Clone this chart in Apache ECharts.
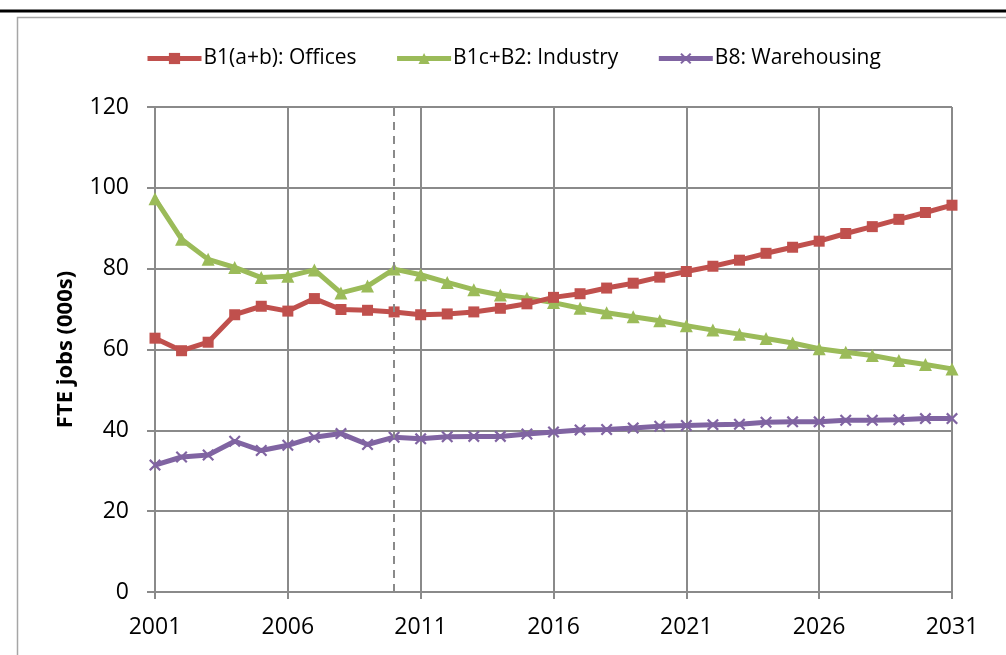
<!DOCTYPE html>
<html>
<head>
<meta charset="utf-8">
<script src="https://cdn.jsdelivr.net/npm/echarts@6/dist/echarts.min.js"></script>
<style>
html,body{margin:0;padding:0;background:#fff;}
#chart{width:1006px;height:655px;}
</style>
</head>
<body>
<div id="chart"></div>
<script>
var years = ['2001','2002','2003','2004','2005','2006','2007','2008','2009','2010',
             '2011','2012','2013','2014','2015','2016','2017','2018','2019','2020',
             '2021','2022','2023','2024','2025','2026','2027','2028','2029','2030','2031'];
var offices = [62.8, 59.7, 61.8, 68.6, 70.7, 69.5, 72.6, 69.9, 69.7, 69.3,
               68.6, 68.8, 69.3, 70.2, 71.3, 72.9, 73.8, 75.2, 76.4, 77.9,
               79.3, 80.6, 82.1, 83.8, 85.3, 86.8, 88.7, 90.4, 92.2, 93.9, 95.7];
var industry = [97.3, 87.3, 82.3, 80.3, 77.8, 78.1, 79.7, 74.0, 75.7, 79.9,
                78.5, 76.6, 74.8, 73.5, 72.7, 71.6, 70.2, 69.1, 68.1, 67.1,
                65.9, 64.8, 63.8, 62.7, 61.6, 60.2, 59.3, 58.5, 57.3, 56.3, 55.2];
var warehousing = [31.4, 33.4, 33.9, 37.3, 35.0, 36.3, 38.3, 39.2, 36.5, 38.3,
                   37.9, 38.4, 38.5, 38.5, 39.1, 39.6, 40.1, 40.2, 40.6, 41.0,
                   41.2, 41.4, 41.5, 42.0, 42.1, 42.1, 42.5, 42.5, 42.6, 42.9, 42.9];
var seriesNames = ['B1(a+b): Offices', 'B1c+B2: Industry', 'B8: Warehousing'];
var dividerYear = '2010';
var yTicks = {min: 0, max: 120, interval: 20};

var FONT = '"Open Sans", "DejaVu Sans", sans-serif';
var GRID = '#8a8a8a';
var xSym = 'path://M0,1.3 L1.3,0 L5,3.7 L8.7,0 L10,1.3 L6.3,5 L10,8.7 L8.7,10 L5,6.3 L1.3,10 L0,8.7 L3.7,5 Z';

var chart = echarts.init(document.getElementById('chart'), null, {renderer: 'canvas'});
chart.setOption({
  animation: false,
  backgroundColor: '#fff',
  graphic: [
    {type: 'rect', z: -10, shape: {x: 17.5, y: 17.5, width: 1100, height: 800},
     style: {fill: 'none', stroke: '#a6a6a6', lineWidth: 1.5}},
    {type: 'rect', z: -5, shape: {x: 0, y: 9.5, width: 1006, height: 3},
     style: {fill: '#000'}}
  ],
  legend: {
    left: 140, top: 43,
    itemWidth: 54, itemHeight: 14, itemGap: 38,
    lineStyle: {width: 5},
    textStyle: {fontFamily: FONT, fontSize: 21, color: '#000', padding: [0,0,0,-3]},
    data: seriesNames
  },
  grid: {left: 155, right: 54, top: 107, bottom: 63},
  xAxis: {
    type: 'category', data: years, boundaryGap: false,
    axisLine: {lineStyle: {color: GRID, width: 2}},
    axisTick: {interval: 4, length: 7, lineStyle: {color: GRID, width: 2}},
    axisLabel: {interval: 4, margin: 24, fontFamily: FONT, fontSize: 23, color: '#000'},
    splitLine: {show: true, interval: 4, lineStyle: {color: GRID, width: 2}}
  },
  yAxis: {
    type: 'value', min: yTicks.min, max: yTicks.max, interval: yTicks.interval,
    name: 'FTE jobs (000s)', nameLocation: 'middle', nameGap: 78,
    nameTextStyle: {fontFamily: FONT, fontSize: 22, fontWeight: 'bold', color: '#000'},
    axisLine: {show: true, lineStyle: {color: GRID, width: 2}},
    axisTick: {show: true, length: 8, lineStyle: {color: GRID, width: 2}},
    axisLabel: {margin: 26, fontFamily: FONT, fontSize: 23, color: '#000'},
    splitLine: {show: true, lineStyle: {color: GRID, width: 2}}
  },
  series: [
    {name: seriesNames[0], type: 'line', data: offices, color: '#C0504D',
     symbol: 'rect', symbolSize: 11, lineStyle: {width: 5},
     itemStyle: {color: '#C0504D'}, z: 3,
     markLine: {silent: true, symbol: 'none', label: {show: false},
       lineStyle: {color: '#8a8a8a', type: [8, 6], width: 2},
       data: [{xAxis: dividerYear}]}},
    {name: seriesNames[1], type: 'line', data: industry, color: '#9BBB59',
     symbol: 'triangle', symbolSize: 13, lineStyle: {width: 5},
     itemStyle: {color: '#9BBB59'}, z: 2},
    {name: seriesNames[2], type: 'line', data: warehousing, color: '#8064A2',
     symbol: xSym, symbolSize: 12, lineStyle: {width: 5},
     itemStyle: {color: '#8064A2'}, z: 4}
  ]
});
</script>
</body>
</html>
